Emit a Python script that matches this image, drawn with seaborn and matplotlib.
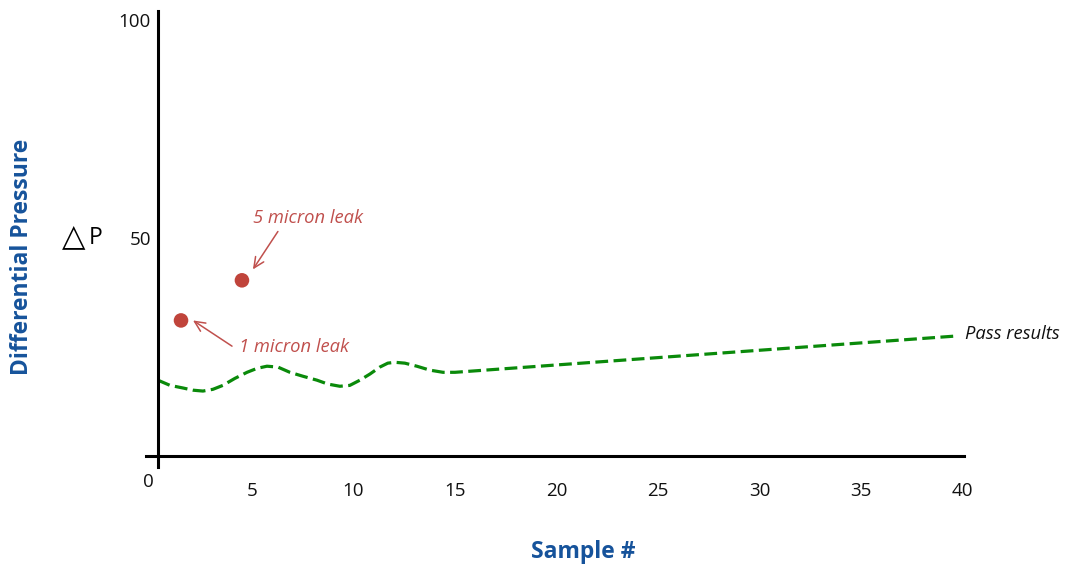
import matplotlib
matplotlib.use("Agg")
import matplotlib.pyplot as plt
import seaborn as sns
import pandas as pd

# pass curve
pass_x = [0.37, 0.97, 1.61, 2.10, 2.59, 3.08, 3.57, 4.16, 4.76, 5.25, 5.74, 6.28, 6.87,
          7.51, 8.20, 8.74, 9.33, 9.82, 10.32, 10.81, 11.30, 11.69, 12.04, 12.53, 13.12,
          13.76, 14.41, 15.0, 39.6]
pass_y = [17.4, 16.2, 15.6, 15.1, 14.9, 15.3, 16.2, 17.8, 19.2, 20.1, 20.6, 20.4, 19.2,
          18.3, 17.4, 16.5, 16.0, 16.2, 17.4, 18.8, 20.4, 21.3, 21.5, 21.3, 20.6,
          19.7, 19.2, 19.2, 27.5]

leak_x = [1.51, 4.51]
leak_y = [31.1, 40.3]
leak_labels = ["1 micron leak", "5 micron leak"]

x_ticks = [5, 10, 15, 20, 25, 30, 35, 40]
y_ticks = [50, 100]

BLUE = "#16539b"
RED = "#c0443b"
RED_TXT = "#c0504d"
GREEN = "#0a8a0a"


def arrow(ax, tail, head):
    ax.annotate("", xy=head, xytext=tail,
                arrowprops=dict(arrowstyle="->,head_length=0.75,head_width=0.35",
                                color=RED_TXT, lw=1.1, shrinkA=0, shrinkB=0))


def main():
    sns.set_style("white")
    plt.rcParams["font.family"] = ["Open Sans", "DejaVu Sans"]
    plt.rcParams["text.color"] = "#111111"

    fig = plt.figure(figsize=(10.65, 5.66), dpi=100)
    ax = fig.add_axes([0.1221, 0.1558, 0.8010, 0.8319])

    df_pass = pd.DataFrame({"x": pass_x, "y": pass_y})
    df_leak = pd.DataFrame({"x": leak_x, "y": leak_y})

    sns.lineplot(data=df_pass, x="x", y="y", ax=ax, color=GREEN, linewidth=2.3,
                 sort=False, estimator=None)
    ax.lines[-1].set_dashes([4.0, 1.7])
    sns.scatterplot(data=df_leak, x="x", y="y", ax=ax, color=RED, s=110,
                    edgecolor="none", zorder=5)

    ax.set_xlim(-1, 41)
    ax.set_ylim(-5, 103)

    for s in ["top", "right"]:
        ax.spines[s].set_visible(False)
    ax.spines["left"].set_position(("data", 0.37))
    ax.spines["bottom"].set_position(("data", 0))
    ax.spines["left"].set_bounds(-2.5, 102.1)
    ax.spines["bottom"].set_bounds(-0.21, 40.06)
    for s in ["left", "bottom"]:
        ax.spines[s].set_linewidth(2.2)
        ax.spines[s].set_color("black")

    ax.set_xticks(x_ticks)
    ax.set_yticks(y_ticks)
    ax.set_xticklabels([str(t) for t in x_ticks])
    ax.set_yticklabels([str(t) for t in y_ticks])
    ax.tick_params(axis="x", length=0, pad=19, labelsize=13.5, labelcolor="#111111")
    ax.tick_params(axis="y", length=0, pad=5, labelsize=13.5, labelcolor="#111111")
    ax.text(-0.12, -5.9, "0", fontsize=13.5, ha="center", va="center")
    ax.set_xlabel("")
    ax.set_ylabel("")

    # leak annotations
    ax.text(7.76, 54.5, leak_labels[1], color=RED_TXT, fontsize=13.2, style="italic",
            ha="center", va="center")
    arrow(ax, (6.28, 51.5), (5.05, 42.8))
    ax.text(7.07, 24.9, leak_labels[0], color=RED_TXT, fontsize=13.2, style="italic",
            ha="center", va="center")
    arrow(ax, (4.02, 25.2), (2.10, 31.1))
    ax.text(40.11, 28.1, "Pass results", fontsize=13.2, style="italic",
            ha="left", va="center")

    fig.text(74 / 1065, 1 - 237 / 566, "△", fontsize=22, ha="center", va="center",
             family=["DejaVu Sans"], color="black")
    fig.text(96 / 1065, 1 - 238 / 566, "P", fontsize=16.5, ha="center", va="center",
             color="black")
    fig.text(22 / 1065, 1 - 257 / 566, "Differential Pressure", fontsize=16.5,
             fontweight="bold", color=BLUE, rotation=90, ha="center", va="center")
    fig.text(583 / 1065, 1 - 552 / 566, "Sample #", fontsize=16.5,
             fontweight="bold", color=BLUE, ha="center", va="center")

    fig.savefig("out.png", dpi=100)


if __name__ == "__main__":
    main()
